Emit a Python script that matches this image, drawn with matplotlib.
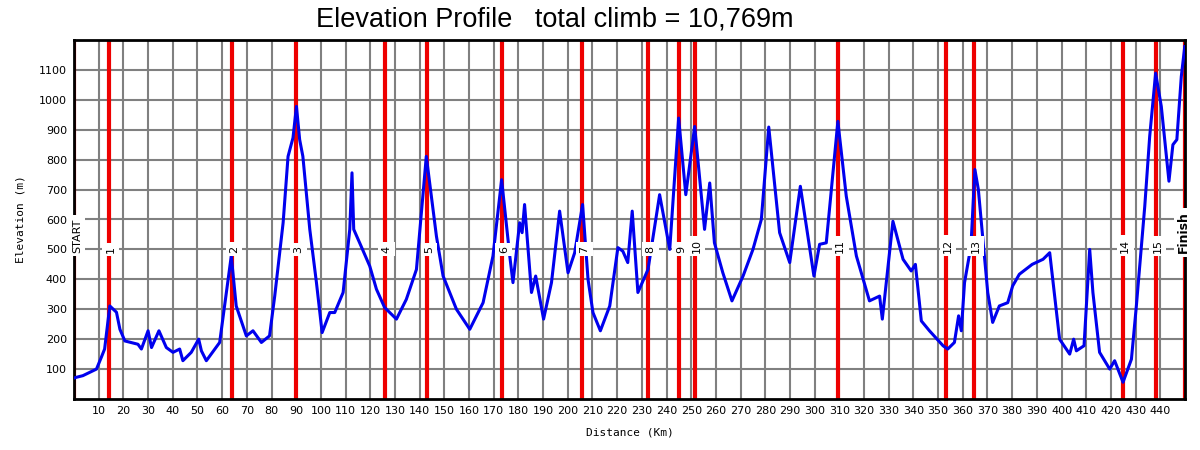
import matplotlib
matplotlib.use("Agg")
import matplotlib.pyplot as plt

# Профіль висоти (км, м)
dist_km = [0, 0.7, 3.6, 9.1, 11.1, 12.4, 14.5, 17.2, 18.6, 20.6, 25.9, 27.3, 30, 31.4,
           34.4, 37.4, 40.1, 42.8, 44.1, 47.5, 50.5, 51.6, 53.6, 59, 63.7, 65.7, 69.8,
           72.5, 75.9, 79.2, 81.3, 84.7, 86.7, 88.7, 90.1, 91.4, 92.7, 95.5, 98.2, 100.5,
           103.6, 105.6, 109, 111.7, 112.6, 113.3, 115.7, 119.8, 122.5, 125.8, 130.6,
           134.6, 138.7, 142.7, 146.8, 149.5, 154.9, 160.3, 165.7, 169.7, 173.2, 176.5,
           177.8, 180.5, 181.5, 182.5, 185.3, 187, 190.2, 193.4, 196.7, 200.1, 202.8,
           206.0, 208.2, 210.2, 213.2, 217, 220.3, 222.3, 224.3, 226.1, 228.4, 232.5,
           237.2, 241.3, 244.9, 247.8, 251.4, 255.4, 257.5, 259.4, 262.8, 266.5, 271,
           275, 278.4, 281.4, 285.8, 289.9, 294.2, 299.7, 302, 304.7, 309.4, 312.8,
           316.9, 322.2, 326.3, 327.4, 331.7, 335.8, 339.1, 340.8, 343.2, 346.5, 352,
           353.9, 356.6, 358.3, 359.4, 360.7, 363.3, 364.9, 366.3, 370.1, 372.1, 374.8,
           378.2, 380.2, 382.9, 388.1, 392.5, 395.2, 399.2, 403.3, 404.9, 406, 409.1,
           411.4, 412.7, 415.4, 419.5, 421.5, 424.9, 428.3, 430.3, 433.7, 435.7, 438.1,
           440.4, 443.5, 445.1, 446.7, 448.5, 449.9]
elev_m = [70, 72, 78, 100, 140, 167, 311, 290, 233, 194, 183, 167, 228, 172,
          228, 172, 156, 167, 128, 156, 200, 161, 128, 189, 478, 311, 211,
          228, 189, 211, 344, 589, 811, 873, 978, 867, 811, 567, 389, 222,
          289, 289, 356, 567, 756, 567, 522, 444, 367, 306, 267,
          333, 433, 811, 544, 411, 300, 233, 322, 478, 733, 478,
          389, 589, 556, 650, 356, 411, 267, 389, 628, 422, 489,
          650, 400, 289, 228, 311, 506, 494, 456, 628, 356, 433,
          683, 500, 939, 683, 911, 567, 722, 522, 422, 328, 411,
          500, 600, 909, 556, 456, 711, 411, 517, 522, 928, 678,
          478, 328, 344, 267, 594, 467, 428, 450, 261, 228, 178,
          167, 189, 278, 228, 389, 511, 767, 700, 356, 256, 311,
          322, 378, 417, 450, 467, 489, 200, 150, 200, 161, 178,
          500, 356, 156, 100, 128, 56, 133, 311, 644, 878, 1089,
          978, 728, 850, 867, 1078, 1178]

# Контрольні точки
cp_km = [0, 14.0, 63.9, 90.1, 125.8, 142.9, 173.2, 205.8, 232.5, 244.9, 251.4,
         309.4, 353.1, 364.4, 424.9, 438.1, 449.9]
cp_labels = ["START", "1", "2", "3", "4", "5", "6", "7", "8", "9", "10",
             "11", "12", "13", "14", "15", "Finish"]

x_ticks = list(range(10, 450, 10))
y_ticks = list(range(100, 1200, 100))

fig = plt.figure(figsize=(12, 4.5), dpi=100)
ax = fig.add_axes([74 / 1200, 1 - 399 / 450, (1185 - 74) / 1200, (399 - 40) / 450])

ax.set_xlim(0, 450)
ax.set_ylim(0, 1200)
ax.set_xticks(x_ticks)
ax.set_yticks(y_ticks)
ax.tick_params(length=0, labelsize=8, pad=5)
ax.grid(True, color="#808080", linewidth=1.5)
ax.set_axisbelow(True)

for s in ax.spines.values():
    s.set_linewidth(2)
    s.set_color("black")

for km, lab in zip(cp_km, cp_labels):
    ax.axvline(km, color="#ee0000", linewidth=3, zorder=2)
    if lab == "START":
        tx = km + 1.2
    elif lab == "Finish":
        tx = km - 0.4
    else:
        tx = km + 0.9
    ax.text(tx, 488, lab, rotation=90, ha="center", va="bottom",
            fontsize=9 if lab == "Finish" else 8,
            fontweight="bold" if lab == "Finish" else "normal",
            bbox=dict(facecolor="white", edgecolor="none", pad=2.5), zorder=4)

ax.plot(dist_km, elev_m, color="#0000ee", linewidth=2.2, zorder=3)

ax.set_xlabel("Distance (Km)", fontsize=8, family="DejaVu Sans Mono", labelpad=8)
ax.set_ylabel("Elevation (m)", fontsize=8, family="DejaVu Sans Mono", labelpad=10)

fig.text(555 / 1200, 1 - 20 / 450, "Elevation Profile   total climb = 10,769m",
         ha="center", va="center", fontsize=19.5, family="Liberation Sans")

fig.savefig("out.png", dpi=100)
